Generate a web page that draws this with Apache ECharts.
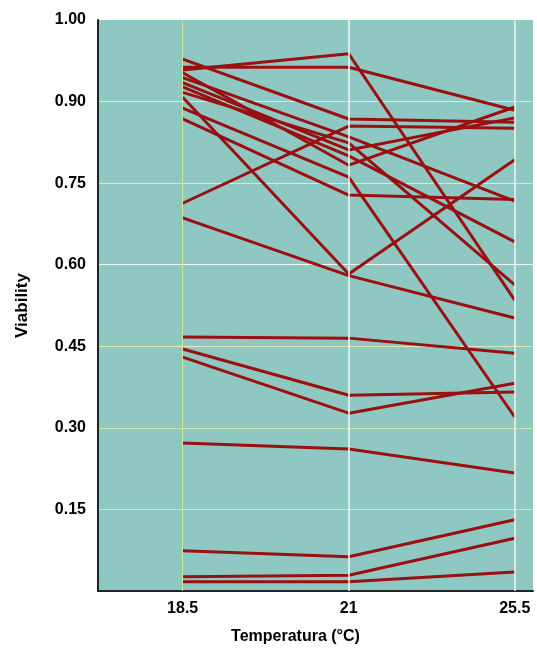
<!DOCTYPE html>
<html>
<head>
<meta charset="utf-8">
<script src="https://cdn.jsdelivr.net/npm/echarts@6/dist/echarts.min.js"></script>
<style>
html,body{margin:0;padding:0;background:#fff;}
#c{width:537px;height:650px;}
</style>
</head>
<body>
<div id="c"></div>
<script>
// Categories (temperature) placed at positions 1, 2, 3
const categories = ['18.5', '21', '25.5'];
const categoryPos = [1, 2, 3];
// Y tick values and their printed labels
const yTickValues = [0.15, 0.30, 0.45, 0.60, 0.75, 0.90, 1.05];
const yTickLabels = ['0.15', '0.30', '0.45', '0.60', '0.75', '0.90', '1.00'];

// Viability of each sample at 18.5, 21, 25.5 °C
const s01 = [0.958, 0.988, 0.535];
const s02 = [0.963, 0.963, 0.884];
const s03 = [0.978, 0.868, 0.862];
const s04 = [0.713, 0.855, 0.851];
const s05 = [0.953, 0.783, 0.890];
const s06 = [0.944, 0.835, 0.717];
const s07 = [0.927, 0.800, 0.642];
const s08 = [0.908, 0.583, 0.793];
const s09 = [0.686, 0.580, 0.502];
const s10 = [0.917, 0.824, 0.563];
const s11 = [0.888, 0.761, 0.320];
const s12 = [0.868, 0.728, 0.720];
const s13 = [0.935, 0.811, 0.870];
const s14 = [0.467, 0.465, 0.437];
const s15 = [0.445, 0.360, 0.366];
const s16 = [0.430, 0.327, 0.382];
const s17 = [0.272, 0.261, 0.217];
const s18 = [0.074, 0.063, 0.131];
const s19 = [0.026, 0.029, 0.097];
const s20 = [0.017, 0.017, 0.035];

const allSeries = [s01,s02,s03,s04,s05,s06,s07,s08,s09,s10,s11,s12,s13,s14,s15,s16,s17,s18,s19,s20];

const chart = echarts.init(document.getElementById('c'), null, {renderer: 'canvas'});

const lineSeries = allSeries.map((vals, i) => ({
  type: 'line',
  name: 'S' + (i + 1),
  data: vals.map((v, k) => [categoryPos[k], v]),
  symbol: 'none',
  z: 3,
  lineStyle: {color: '#9a1010', width: 3},
  emphasis: {disabled: true},
  animation: false
}));

const gridSeries = {
  type: 'line',
  data: [],
  z: 1,
  silent: true,
  animation: false,
  markLine: {
    silent: true,
    symbol: 'none',
    label: {show: false},
    animation: false,
    data: [
      {xAxis: categoryPos[0], lineStyle: {color: '#cfe2a0', width: 1, type: 'solid'}},
      {xAxis: categoryPos[1], lineStyle: {color: '#f4f9f2', width: 1.5, type: 'solid'}},
      {xAxis: categoryPos[2], lineStyle: {color: '#eef6ea', width: 1.5, type: 'solid'}}
    ]
  }
};

const font = '"Liberation Sans", Arial, Helvetica, sans-serif';

chart.setOption({
  animation: false,
  backgroundColor: '#ffffff',
  grid: {
    left: 98, right: 4, top: 20, bottom: 59,
    show: true, backgroundColor: '#8fc7c3', borderWidth: 0
  },
  xAxis: {
    type: 'value',
    min: 0.49, max: 3.11,
    name: 'Temperatura (°C)',
    nameLocation: 'middle',
    nameGap: 38,
    nameTextStyle: {color: '#000', fontFamily: font, fontWeight: 'bold', fontSize: 16, padding: [0, 40, 0, 0]},
    axisLine: {show: true, onZero: false, lineStyle: {color: '#222', width: 2}},
    axisTick: {show: false},
    splitLine: {show: false},
    axisLabel: {
      customValues: categoryPos,
      color: '#000', fontFamily: font, fontWeight: 'bold', fontSize: 16, margin: 10,
      formatter: (v) => {
        const idx = categoryPos.indexOf(Math.round(v));
        return idx >= 0 ? categories[idx] : '';
      }
    }
  },
  yAxis: {
    type: 'value',
    min: 0, max: 1.05, interval: 0.15,
    name: 'Viability',
    nameLocation: 'middle',
    nameGap: 67,
    nameRotate: 90,
    nameTextStyle: {color: '#000', fontFamily: font, fontWeight: 'bold', fontSize: 17},
    axisLine: {show: true, onZero: false, lineStyle: {color: '#222', width: 2}},
    axisTick: {show: false},
    splitLine: {
      show: true,
      lineStyle: {
        width: 1,
        color: ['#8fc7c3', '#d8eaa4', '#cfe6a8', '#d4ecbc', '#f6faee', '#dcedb0', '#d6eec0', '#8fc7c3']
      }
    },
    axisLabel: {
      color: '#000', fontFamily: font, fontWeight: 'bold', fontSize: 16, margin: 12,
      formatter: (v) => {
        for (let i = 0; i < yTickValues.length; i++) {
          if (Math.abs(yTickValues[i] - v) < 1e-6) return yTickLabels[i];
        }
        return '';
      }
    }
  },
  series: [gridSeries].concat(lineSeries)
});
</script>
</body>
</html>
